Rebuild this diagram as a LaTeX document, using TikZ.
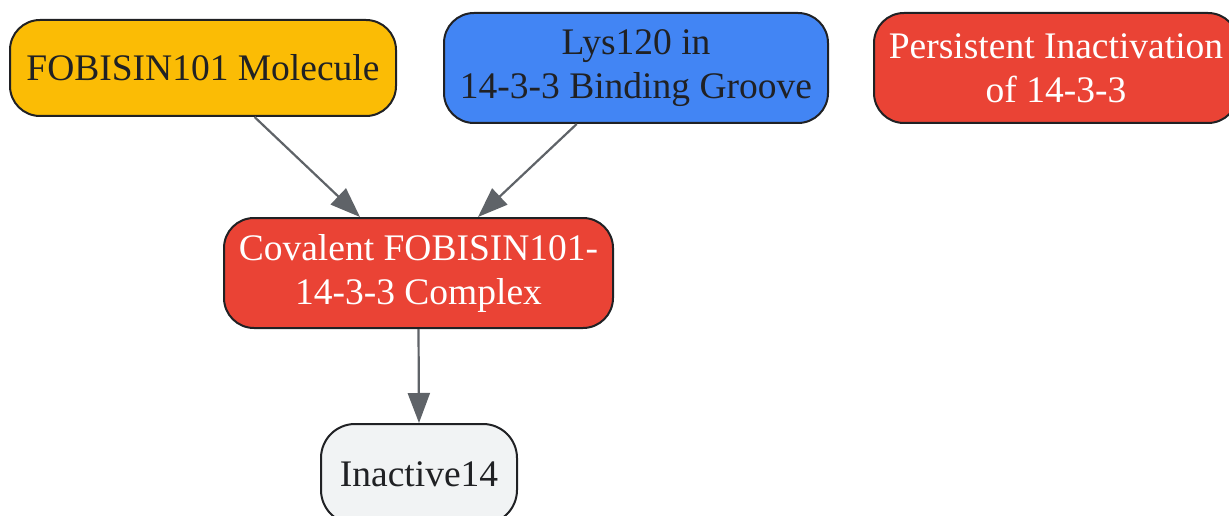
\documentclass[tikz,border=0pt]{standalone}
\usepackage{fontspec}
\setmainfont{Liberation Serif}
\usetikzlibrary{arrows.meta}
\definecolor{cyellow}{HTML}{FBBC05}
\definecolor{cblue}{HTML}{4285F4}
\definecolor{cred}{HTML}{EA4335}
\definecolor{cgray}{HTML}{F1F3F4}
\definecolor{cborder}{HTML}{202124}
\definecolor{cedge}{HTML}{5F6368}
\begin{document}
\begin{tikzpicture}[x=1pt,y=-1pt,
  box/.style={draw=cborder,line width=2pt,rounded corners=30pt,align=center,
    inner sep=0pt,font=\fontsize{37.5}{44}\selectfont,text=cborder},
  edge/.style={draw=cedge,line width=2.2pt,-{Triangle[length=30pt,width=22pt]}}]
\useasboundingbox (0,0) rectangle (1229,516);
\node[box,fill=cyellow,minimum width=386pt,minimum height=96pt] (yel) at (203,68) {FOBISIN101 Molecule};
\node[box,fill=cblue,minimum width=384pt,minimum height=110pt] (blue) at (636,68) {Lys120 in\\14-3-3 Binding Groove};
\node[box,fill=cred,text=white,minimum width=364pt,minimum height=110pt] (pers) at (1056,68) {Persistent Inactivation\\of 14-3-3};
\node[box,fill=cred,text=white,minimum width=389pt,minimum height=110pt] (mid) at (418.5,273) {Covalent FOBISIN101-\\14-3-3 Complex};
\node[box,fill=cgray,rounded corners=34pt,minimum width=196pt,minimum height=100pt] (inact) at (419,474) {Inactive14};
\draw[edge] (yel) -- ([xshift=-58.5pt]mid.north);
\draw[edge] (blue) -- ([xshift=59.5pt]mid.north);
\draw[edge] (mid.south) -- (inact.north);
\end{tikzpicture}
\end{document}
